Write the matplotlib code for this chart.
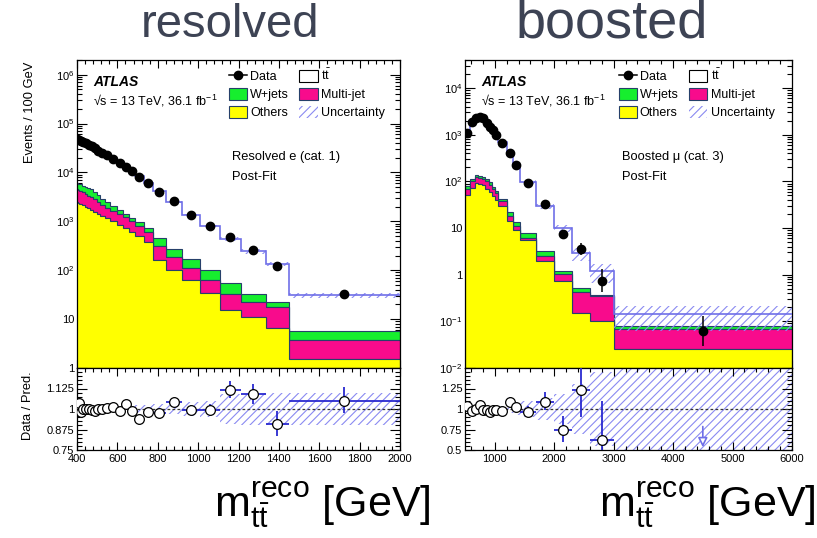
import numpy as np
import matplotlib
matplotlib.use("Agg")
import matplotlib.pyplot as plt
from matplotlib.patches import Patch
from matplotlib.lines import Line2D
from matplotlib.ticker import FixedLocator, MultipleLocator, LogLocator, NullFormatter, FuncFormatter, FixedFormatter

plt.rcParams['font.family'] = ['Liberation Sans', 'DejaVu Sans']
plt.rcParams['mathtext.fontset'] = 'custom'
plt.rcParams['mathtext.rm'] = 'Liberation Sans'
plt.rcParams['mathtext.it'] = 'Liberation Sans:italic'
plt.rcParams['mathtext.bf'] = 'Liberation Sans:bold'
HATCH = '#8a8af2'
plt.rcParams['hatch.color'] = HATCH
plt.rcParams['hatch.linewidth'] = 0.8

# ---------------- resolved e (cat. 1) ----------------
res_edges = [395, 405, 412, 424, 438, 452, 465, 481, 497, 514, 537, 563, 597, 628,
             657, 688, 730, 777, 840, 920, 1010, 1110, 1210, 1335, 1450, 2000]
res_data = [48700, 47000, 45000, 43000, 40000, 37000, 34000, 31000, 28000, 25000,
            23000, 19000, 15500, 13000, 10600, 8000, 6050, 4000, 2600, 1370,
            790, 480, 265, 121, 32]
res_ttbar = [42200, 39500, 40000, 37600, 34900, 32200, 29700, 27300, 24500, 22100,
             20300, 16750, 14000, 11200, 9550, 7550, 5450, 3645, 2222, 1210,
             694, 373, 209.6, 110.5, 24.7]
res_wjets = [1500, 1600, 1600, 1500, 1500, 1450, 1400, 1200, 1000, 700,
             600, 400, 300, 200, 150, 150, 120, 135, 82, 57,
             38, 24, 10.9, 5.2, 2.1]
res_multijet = [2000, 1900, 1800, 1750, 1600, 1500, 1400, 1250, 1080, 900,
                750, 650, 550, 480, 380, 300, 230, 160, 86, 50,
                28, 16.5, 11.7, 10.8, 2.2]
res_others = [2500, 2400, 2300, 2150, 2000, 1850, 1700, 1550, 1420, 1300,
              1150, 1000, 850, 720, 620, 500, 370, 160, 100, 63,
              34, 15.5, 10.8, 6.5, 1.5]
res_unc = [0.012, 0.012, 0.012, 0.012, 0.012, 0.012, 0.012, 0.012, 0.012, 0.013,
           0.013, 0.014, 0.016, 0.018, 0.02, 0.022, 0.025, 0.028, 0.032, 0.04,
           0.05, 0.09, 0.095, 0.095, 0.1]

# ---------------- boosted mu (cat. 3) ----------------
boo_edges = [500, 580, 660, 720, 780, 840, 900, 950, 1000, 1050, 1200, 1300, 1420,
             1700, 2000, 2300, 2600, 3000, 6000]
boo_data = [1110, 1850, 2330, 2400, 2330, 1780, 1470, 1250, 980, 668, 408, 229, 93,
            32, 7.4, 3.53, 0.74, 0.062]
boo_ttbar = [992, 1773, 2194, 2154, 2228, 1688, 1436, 1188, 928, 641, 353, 210.6, 88.1,
             26.2, 8.79, 2.36, 0.82, 0.062]
boo_wjets = [10, 15, 11, 12, 13, 10, 10, 7, 6, 3.3, 4.4, 2.3, 1.7,
             0.66, 0.2, 0.08, 0.017, 0.0115]
boo_multijet = [20, 28, 32, 30, 30, 32, 27, 20, 16, 8.7, 3.9, 2.1, 0.7,
                0.54, 0.28, 0.277, 0.252, 0.042]
boo_others = [50, 72, 93, 90, 82, 68, 58, 48, 40, 29, 14.3, 9.0, 5.5,
              2.0, 0.73, 0.153, 0.101, 0.0255]
boo_unc = [0.025, 0.02, 0.02, 0.02, 0.02, 0.02, 0.025, 0.025, 0.03, 0.035, 0.05, 0.07, 0.1,
           0.13, 0.18, 0.3, 0.45, 0.55]

GREEN = '#16ee2e'
MAGENTA = '#f80b8c'
YELLOW = '#ffff00'
EDGE = '#26406a'
BLUE = '#6f6fe8'
EBLUE = '#2a2ad0'

W, H = 817, 538
fig = plt.figure(figsize=(W / 100, H / 100), dpi=100)


def logfmt(v, pos):
    if v <= 0:
        return ''
    e = int(round(np.log10(v)))
    if abs(np.log10(v) - e) > 1e-6:
        return ''
    if e == 0:
        return '1'
    if e == 1:
        return '10'
    return r'$\mathregular{10^{%d}}$' % e


def panel(x0, x1, edges, data, ttbar, wjets, multijet, others, unc,
          xlim, ylim, rlim, rticks, rlabels, xmajor, xminor, label1):
    ax = fig.add_axes([x0 / W, 1 - 368 / H, (x1 - x0) / W, 308 / H])
    axr = fig.add_axes([x0 / W, 1 - 450 / H, (x1 - x0) / W, 82 / H])
    edges = np.asarray(edges, float)
    centers = 0.5 * (edges[1:] + edges[:-1])
    halfw = 0.5 * np.diff(edges)
    widths = np.diff(edges) / 100.0
    d = np.asarray(data, float)
    c1 = np.asarray(others, float)
    c2 = c1 + np.asarray(multijet, float)
    c3 = c2 + np.asarray(wjets, float)
    tot = c3 + np.asarray(ttbar, float)
    u = np.asarray(unc, float)
    floor = ylim[0] * 1e-3

    ax.stairs(tot, edges, baseline=c3, fill=True, facecolor='white', edgecolor='none', zorder=1)
    ax.stairs(c3, edges, baseline=c2, fill=True, facecolor=GREEN, edgecolor=EDGE, lw=0.8, zorder=2)
    ax.stairs(c2, edges, baseline=c1, fill=True, facecolor=MAGENTA, edgecolor=EDGE, lw=0.8, zorder=2)
    ax.stairs(c1, edges, baseline=np.full_like(c1, floor), fill=True, facecolor=YELLOW,
              edgecolor=EDGE, lw=0.8, zorder=2)
    lo = tot * (1 - u)
    hi = tot * (1 + u)
    ax.fill_between(edges, np.append(lo, lo[-1]), np.append(hi, hi[-1]), step='post',
                    facecolor='none', edgecolor=HATCH, hatch='////', lw=0, zorder=3)
    ax.stairs(tot, edges, baseline=None, color=BLUE, lw=1.2, zorder=4)

    # Poisson errors on data
    n = d * widths
    s = np.sqrt(n + 0.25)
    ehi = (s + 0.5) / widths
    elo = (s - 0.5) / widths
    ax.errorbar(centers, d, yerr=[elo, ehi], fmt='o', color='black', ms=6,
                elinewidth=1.1, capsize=0, zorder=6)

    ax.set_yscale('log')
    ax.set_xlim(*xlim)
    ax.set_ylim(*ylim)
    ax.yaxis.set_major_locator(LogLocator(base=10, numticks=20))
    ax.yaxis.set_minor_locator(LogLocator(base=10, subs=np.arange(2, 10), numticks=20))
    ax.yaxis.set_major_formatter(FuncFormatter(logfmt))
    ax.yaxis.set_minor_formatter(NullFormatter())
    ax.xaxis.set_major_locator(MultipleLocator(xmajor))
    ax.xaxis.set_minor_locator(MultipleLocator(xminor))
    ax.tick_params(axis='x', labelbottom=False)

    # ratio
    r = d / tot
    rlo = elo / tot
    rhi = ehi / tot
    axr.fill_between(edges, np.append(1 - u, 1 - u[-1]), np.append(1 + u, 1 + u[-1]),
                     step='post', facecolor='none', edgecolor=HATCH, hatch='////', lw=0, zorder=1)
    axr.axhline(1, color='#333333', lw=0.9, ls=(0, (2.2, 1.8)), zorder=2)
    inside = r >= rlim[0]
    axr.errorbar(centers[inside], r[inside], xerr=halfw[inside],
                 yerr=[rlo[inside], rhi[inside]], fmt='o', mfc='white', mec='black',
                 mew=0.9, ms=7, ecolor=EBLUE, elinewidth=1.3, capsize=0, zorder=5)
    for xc, rv, rh in zip(centers[~inside], r[~inside], rhi[~inside]):
        axr.annotate('', xy=(xc, rlim[0]), xytext=(xc, min(rv + rh, 0.82)),
                     arrowprops=dict(arrowstyle='-|>', color=BLUE, lw=1.2,
                                     mutation_scale=14, fc='white'), zorder=5)
    axr.set_xlim(*xlim)
    axr.set_ylim(*rlim)
    axr.yaxis.set_major_locator(FixedLocator(rticks))
    axr.yaxis.set_major_formatter(FixedFormatter(rlabels))
    axr.yaxis.set_minor_locator(MultipleLocator((rticks[1] - rticks[0]) / 5))
    axr.yaxis.set_minor_formatter(NullFormatter())
    axr.xaxis.set_major_locator(MultipleLocator(xmajor))
    axr.xaxis.set_minor_locator(MultipleLocator(xminor))

    for a in (ax, axr):
        a.tick_params(which='both', direction='in', top=True, right=True, labelsize=8, width=0.8)
        a.tick_params(axis='x', which='major', length=6)
        a.tick_params(axis='x', which='minor', length=3)
        a.tick_params(axis='y', which='major', length=7, pad=2)
        a.tick_params(axis='y', which='minor', length=3.5)
        a.tick_params(axis='x', which='major', pad=3)
        for sp in a.spines.values():
            sp.set_linewidth(0.9)

    ax.text(0.05, 0.929, 'ATLAS', transform=ax.transAxes, fontsize=10, fontweight='bold',
            fontstyle='italic', va='center', ha='left')
    ax.text(0.05, 0.866, '\u221as = 13 TeV, 36.1 fb$^{\\mathregular{-1}}$', transform=ax.transAxes,
            fontsize=9, va='center', ha='left')
    ax.text(0.48, 0.685, label1, transform=ax.transAxes, fontsize=9.3, va='center', ha='left')
    ax.text(0.48, 0.62, 'Post-Fit', transform=ax.transAxes, fontsize=9.3, va='center', ha='left')

    handles = [Line2D([], [], color='black', marker='o', ms=6, lw=1.1),
               Patch(facecolor=GREEN, edgecolor=EDGE, lw=0.8),
               Patch(facecolor=YELLOW, edgecolor=EDGE, lw=0.8),
               Patch(facecolor='white', edgecolor='black', lw=0.8),
               Patch(facecolor=MAGENTA, edgecolor=EDGE, lw=0.8),
               Patch(facecolor='none', edgecolor=HATCH, hatch='////', lw=0)]
    labels = ['Data', 'W+jets', 'Others', r'$\mathregular{t\bar{t}}$', 'Multi-jet', 'Uncertainty']
    ax.legend(handles, labels, ncol=2, loc='upper left', bbox_to_anchor=(0.462, 0.982),
              frameon=False, fontsize=9, handlelength=1.45, handleheight=1.05,
              handletextpad=0.25, columnspacing=0.85, labelspacing=0.38,
              borderaxespad=0, borderpad=0.2)
    return ax, axr


ax1, ax1r = panel(77, 400, res_edges, res_data, res_ttbar, res_wjets, res_multijet, res_others,
                  res_unc, (400, 2000), (1, 2e6), (0.75, 1.25),
                  [0.75, 0.875, 1.0, 1.125, 1.25], ['0.75', '0.875', '1', '1.125', ''],
                  200, 40, 'Resolved e (cat. 1)')
ax2, ax2r = panel(465, 792, boo_edges, boo_data, boo_ttbar, boo_wjets, boo_multijet, boo_others,
                  boo_unc, (500, 6000), (1e-2, 4e4), (0.5, 1.5),
                  [0.5, 0.75, 1.0, 1.25, 1.5], ['0.5', '0.75', '1', '1.25', ''],
                  1000, 200, 'Boosted \u03bc (cat. 3)')
ax2r.xaxis.set_major_locator(FixedLocator([1000, 2000, 3000, 4000, 5000, 6000]))
ax2.xaxis.set_major_locator(FixedLocator([1000, 2000, 3000, 4000, 5000, 6000]))

fig.text(30 / W, 1 - 112 / H, 'Events / 100 GeV', rotation=90, ha='center', va='center', fontsize=9.3)
fig.text(28 / W, 1 - 406 / H, 'Data / Pred.', rotation=90, ha='center', va='center', fontsize=9.3)

TCOL = '#3d4354'
fig.text(230 / W, 1 - 25 / H, 'resolved', ha='center', va='center', fontsize=34, color=TCOL)
fig.text(612 / W, 1 - 24 / H, 'boosted', ha='center', va='center', fontsize=39, color=TCOL)

xl = r'm$_{\mathregular{t\bar{t}}}^{\mathregular{reco}}$ [GeV]'
fig.text(322 / W, 1 - 505 / H, xl, ha='center', va='center', fontsize=31)
fig.text(707 / W, 1 - 505 / H, xl, ha='center', va='center', fontsize=31)

fig.savefig('out.png', dpi=100)
